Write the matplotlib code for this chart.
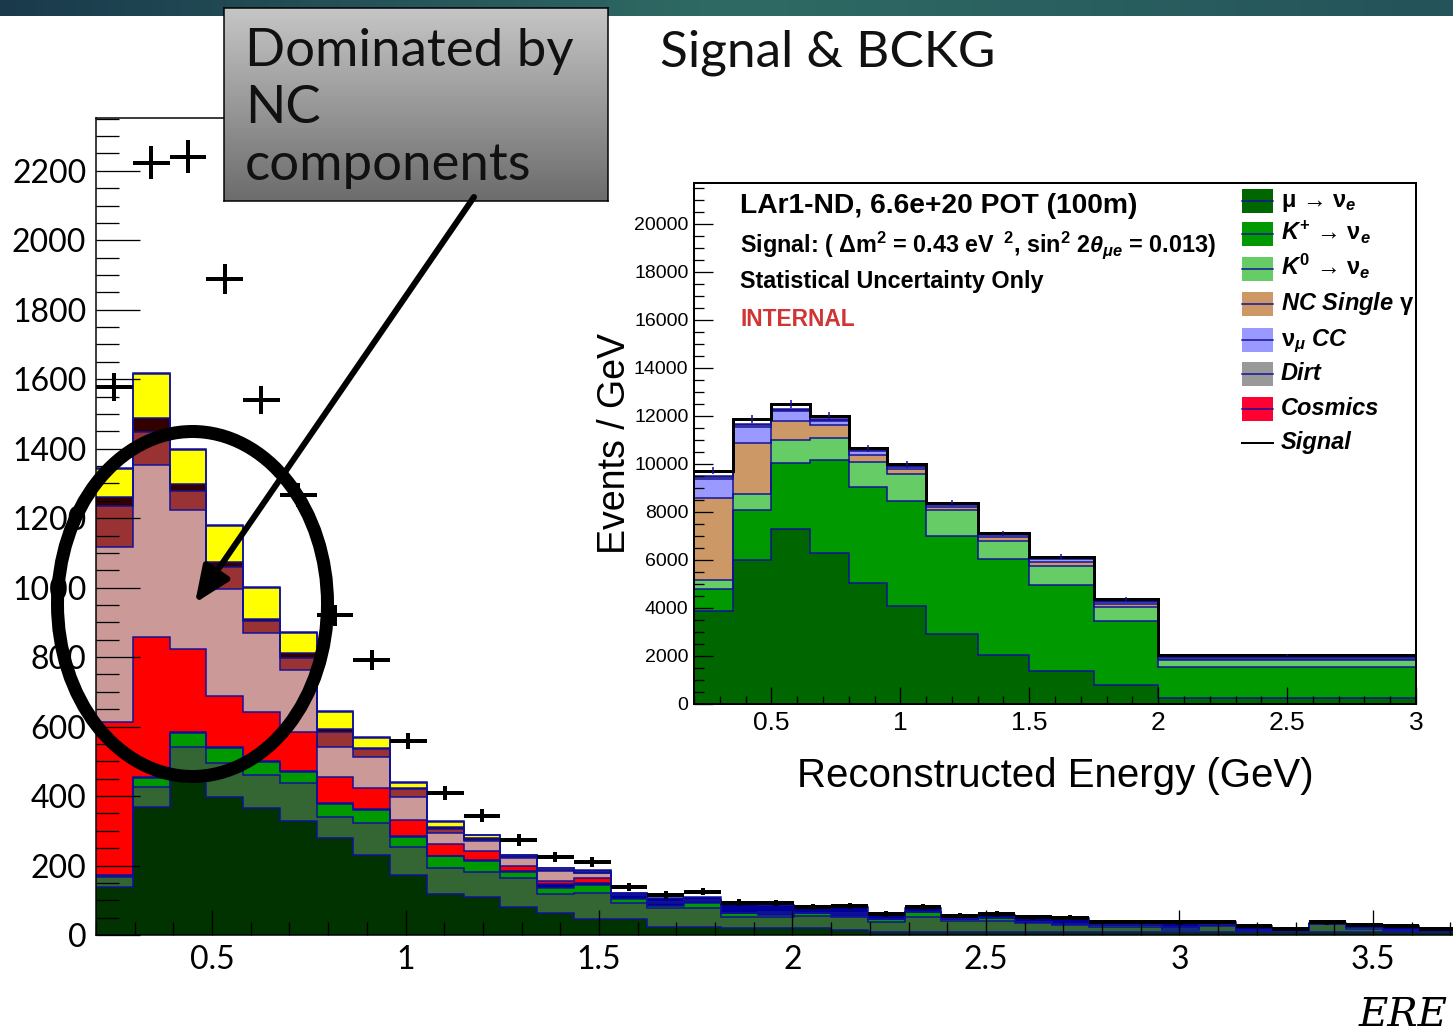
import numpy as np
import matplotlib
matplotlib.use("Agg")
import matplotlib.pyplot as plt
from matplotlib.ticker import MultipleLocator, FuncFormatter
from matplotlib.patches import Ellipse, Rectangle, FancyArrowPatch
from matplotlib.colors import LinearSegmentedColormap

W, H, DPI = 1453, 1033, 100
PT = 72.0 / DPI  # points per pixel

plt.rcParams['mathtext.fontset'] = 'custom'
plt.rcParams['mathtext.rm'] = 'Liberation Sans:bold'
plt.rcParams['mathtext.it'] = 'Liberation Sans:italic:bold'
plt.rcParams['mathtext.bf'] = 'Liberation Sans:bold'

# ---------------- background plot (slide) ----------------
# bin edges in GeV, 37 bins of 0.095 from 0.2
edges_big = np.round(0.2 + 0.095 * np.arange(38), 3)

# cumulative stack levels (events), bottom layer first
lvl_dg = [138, 369, 470, 397, 366, 328, 279, 230, 173, 118, 110, 81, 64, 46, 46, 23, 23, 20, 20,
          20, 14, 9, 9, 9, 9, 9, 8, 8, 8, 8, 8, 8, 8, 9, 8, 8, 8]
lvl_mg = [167, 426, 541, 495, 461, 438, 340, 322, 253, 194, 182, 163, 118, 121, 92, 78, 79, 52, 52,
          55, 52, 37, 52, 40, 40, 35, 29, 23, 23, 14, 26, 12, 12, 32, 17, 12, 9]
lvl_g = [170, 452, 582, 538, 498, 469, 377, 360, 282, 226, 213, 182, 136, 144, 104, 84, 91, 63, 58,
         63, 55, 46, 66, 46, 49, 37, 31, 29, 29, 20, 29, 14, 13, 33, 23, 14, 11]
lvl_b1 = [172, 454, 584, 540, 500, 471, 379, 362, 284, 228, 215, 184, 147, 150, 115, 91, 98, 63, 62,
          63, 60, 46, 66, 46, 49, 37, 31, 29, 29, 23, 29, 14, 13, 33, 23, 14, 11]
lvl_red = [613, 858, 823, 688, 642, 585, 455, 423, 331, 262, 242, 199, 156, 164, 115, 96, 98, 63, 62,
           63, 63, 46, 66, 46, 49, 37, 31, 29, 29, 23, 29, 14, 13, 33, 23, 14, 11]
lvl_pink = [1117, 1353, 1224, 996, 870, 763, 541, 513, 397, 295, 272, 221, 185, 178, 119, 96, 102, 63, 66,
            63, 64, 46, 66, 46, 49, 37, 31, 29, 29, 23, 29, 14, 13, 33, 23, 14, 11]
lvl_brown = [1235, 1448, 1278, 1060, 904, 798, 585, 536, 420, 305, 274, 224, 186, 179, 119, 96, 102, 63, 66,
             63, 64, 46, 66, 46, 49, 37, 31, 29, 29, 23, 29, 14, 13, 33, 23, 14, 11]
lvl_maroon = [1261, 1489, 1299, 1074, 910, 812, 593, 538, 424, 310, 278, 226, 187, 180, 119, 96, 102, 63, 66,
              63, 64, 46, 66, 46, 49, 37, 31, 29, 29, 23, 29, 14, 13, 33, 23, 14, 11]
lvl_yellow = [1342, 1615, 1397, 1178, 999, 870, 642, 567, 438, 325, 288, 230, 192, 184, 120, 96, 102, 63, 66,
              63, 64, 46, 66, 46, 49, 37, 31, 29, 29, 23, 29, 14, 13, 33, 23, 14, 11]
lvl_top = [1345, 1618, 1400, 1181, 1002, 873, 645, 570, 440, 327, 289, 231, 193, 187, 121, 107, 110, 90, 87,
           78, 81, 60, 78, 52, 58, 49, 49, 37, 37, 35, 37, 26, 17, 35, 29, 26, 17]
data_big = [1578, 2223, 2240, 1889, 1540, 1267, 921, 792, 559, 409, 343, 274, 225, 210, 138, 115, 125, 93, 92,
            80, 84, 61, 80, 56, 60, 51, 50, 38, 38, 36, 38, 27, 18, 36, 30, 27, 18]

# ---------------- inset (LAr1-ND) ----------------
edges_nd = [0.2, 0.35, 0.5, 0.65, 0.8, 0.95, 1.1, 1.3, 1.5, 1.75, 2.0, 3.0]
nd_mu = [3888, 6000, 7292, 6278, 5056, 4083, 2917, 2042, 1389, 792, 250]
nd_kp = [4792, 8083, 10028, 10167, 9056, 8458, 7000, 6028, 4972, 3458, 1556]
nd_k0 = [5167, 8750, 11000, 11097, 10097, 9583, 8083, 6806, 5750, 4028, 1833]
nd_nc = [8569, 10889, 11792, 11625, 10375, 9778, 8222, 6944, 5931, 4167, 1880]
nd_numu = [9375, 11556, 12222, 11806, 10556, 9889, 8292, 7042, 6042, 4264, 1950]
nd_dirt = [9440, 11610, 12260, 11840, 10590, 9920, 8320, 7070, 6070, 4290, 1975]
nd_cosmic = [9514, 11653, 12300, 11880, 10620, 9950, 8340, 7090, 6090, 4310, 2000]
nd_signal = [9722, 11875, 12486, 12014, 10653, 9986, 8361, 7111, 6139, 4361, 2042]
nd_err = [140, 170, 170, 150, 140, 140, 120, 110, 100, 90, 50]

leg_labels = [r"$\mathrm{\mu}$ → $\mathrm{\nu}_{e}$", r"$K^{+}$ → $\mathrm{\nu}_{e}$",
              r"$K^{0}$ → $\mathrm{\nu}_{e}$", r"NC Single $\mathrm{\gamma}$", r"$\mathrm{\nu}_{\mu}$ CC",
              "Dirt", "Cosmics", "Signal"]
leg_colors = ['#006600', '#009900', '#66cc66', '#cc9966', '#9999ff', '#999999', '#ff0033', None]

NAVY = '#10109a'


def rect(x0, y0, x1, y1):
    return [x0 / W, 1 - y1 / H, (x1 - x0) / W, (y1 - y0) / H]


fig = plt.figure(figsize=(W / DPI, H / DPI), dpi=DPI)
fig.patch.set_facecolor('white')

# ===== background histogram =====
ax = fig.add_axes(rect(96, 118, 1453, 935), zorder=0)
big_layers = [(lvl_dg, '#003300'), (lvl_mg, '#336633'), (lvl_g, '#009900'), (lvl_b1, '#000099'),
              (lvl_red, '#ff0000'), (lvl_pink, '#cc9999'), (lvl_brown, '#993333'),
              (lvl_maroon, '#330000'), (lvl_yellow, '#ffff00'), (lvl_top, '#000099')]
prev = 0
for lvl, col in big_layers:
    ax.stairs(lvl, edges_big, baseline=prev, fill=True, color=col, lw=0)
    prev = lvl
for lvl, col in big_layers:
    ax.stairs(lvl, edges_big, baseline=None, color=NAVY, lw=1.5 * PT)

centers = (edges_big[:-1] + edges_big[1:]) / 2
half = (edges_big[1:] - edges_big[:-1]) / 2
ax.errorbar(centers, data_big, xerr=half, yerr=np.sqrt(data_big), fmt='none',
            ecolor='black', elinewidth=4 * PT, capsize=0, zorder=5)

ax.set_xlim(0.2, 3.707)
ax.set_ylim(0, 2352)
ax.spines['right'].set_visible(False)
for s in ['left', 'bottom', 'top']:
    ax.spines[s].set_linewidth(1.5 * PT)
ax.xaxis.set_major_locator(MultipleLocator(0.5))
ax.xaxis.set_minor_locator(MultipleLocator(0.1))
ax.yaxis.set_major_locator(MultipleLocator(200))
ax.yaxis.set_minor_locator(MultipleLocator(50))
ax.xaxis.set_major_formatter(FuncFormatter(lambda v, p: f"{v:g}"))
ax.tick_params(which='both', direction='in', width=1.3 * PT, color='black',
               labelsize=23, labelfontfamily='Lato')
ax.tick_params(axis='y', which='major', length=44 * PT, pad=7)
ax.tick_params(axis='y', which='minor', length=23 * PT)
ax.tick_params(axis='x', which='major', length=25 * PT, pad=7)
ax.tick_params(axis='x', which='minor', length=13 * PT)

# white canvas of the pasted plot
fig.add_artist(Rectangle((608 / W, 1 - 805 / H), (W - 608) / W, (805 - 60) / H,
                         transform=fig.transFigure, color='white', zorder=1))

# ===== inset =====
ins = fig.add_axes(rect(694, 183, 1416, 704), zorder=2)
nd_layers = [nd_mu, nd_kp, nd_k0, nd_nc, nd_numu, nd_dirt, nd_cosmic]
prev = 0
for lvl, col in zip(nd_layers, leg_colors):
    ins.stairs(lvl, edges_nd, baseline=prev, fill=True, color=col, lw=0)
    prev = lvl
for lvl in nd_layers:
    ins.stairs(lvl, edges_nd, baseline=None, color=NAVY, lw=1.5 * PT)
ins.stairs(nd_signal, edges_nd, baseline=None, color='black', lw=3 * PT)
nd_c = [(a + b) / 2 for a, b in zip(edges_nd[:-1], edges_nd[1:])]
ins.errorbar(nd_c, nd_signal, yerr=nd_err, fmt='none', ecolor=NAVY, elinewidth=1.5 * PT, capsize=0)

ins.set_xlim(0.2, 3.0)
ins.set_ylim(0, 21708)
for s in ins.spines.values():
    s.set_linewidth(2 * PT)
ins.xaxis.set_major_locator(MultipleLocator(0.5))
ins.xaxis.set_minor_locator(MultipleLocator(0.1))
ins.yaxis.set_major_locator(MultipleLocator(2000))
ins.yaxis.set_minor_locator(MultipleLocator(500))
ins.xaxis.set_major_formatter(FuncFormatter(lambda v, p: f"{v:g}"))
ins.tick_params(which='both', direction='in', width=1.3 * PT, labelfontfamily='Liberation Sans')
ins.tick_params(axis='y', which='major', length=19 * PT, labelsize=14, pad=4)
ins.tick_params(axis='y', which='minor', length=10 * PT)
ins.tick_params(axis='x', which='major', length=17 * PT, labelsize=19, pad=5)
ins.tick_params(axis='x', which='minor', length=8 * PT)
ins.set_xlabel("Reconstructed Energy (GeV)", fontsize=29, family='Liberation Sans')
ins.xaxis.set_label_coords(0.5, (704 - 757) / 521)
ins.set_ylabel("Events / GeV", fontsize=27, family='Liberation Sans')
ins.yaxis.set_label_coords((633 - 694) / 722, 0.5)


def ia(px, py):
    return (px - 694) / 722, (704 - py) / 521


ins.text(*ia(740, 213), "LAr1-ND, 6.6e+20 POT (100m)", transform=ins.transAxes,
         fontsize=20.3, weight='bold', family='Liberation Sans', va='baseline')
ins.text(*ia(740, 252), r"Signal: ( $\Delta$m$^{2}$ = 0.43 eV $\,^{2}$, sin$^{2}$ 2$\theta_{\mu e}$ = 0.013)",
         transform=ins.transAxes, fontsize=16.8, weight='bold', family='Liberation Sans', va='baseline')
ins.text(*ia(740, 288), "Statistical Uncertainty Only", transform=ins.transAxes,
         fontsize=16.8, weight='bold', family='Liberation Sans', va='baseline')
ins.text(*ia(740, 325.5), "INTERNAL", transform=ins.transAxes, color='#d03535',
         fontsize=16.4, weight='bold', family='Liberation Sans', va='baseline')

# legend
leg_rows = [200.7, 234, 269.3, 304.3, 340, 374.3, 408.7, 443.3]
for yc, lab, col in zip(leg_rows, leg_labels, leg_colors):
    x0, y0 = ia(1242, yc + 12)
    x1, y1 = ia(1273, yc - 12)
    xm, ym = ia(1242, yc)
    if col is not None:
        ins.add_patch(Rectangle((x0, y0), x1 - x0, y1 - y0, transform=ins.transAxes,
                                color=col, lw=0, clip_on=False))
        ins.plot([x0, x1], [ym, ym], transform=ins.transAxes, color=NAVY, lw=1.5 * PT, clip_on=False)
    else:
        ins.plot([x0, x1], [ym, ym], transform=ins.transAxes, color='black', lw=2 * PT, clip_on=False)
    ins.text(*ia(1281, yc + 6), lab, transform=ins.transAxes, fontsize=17, weight='bold',
             style='italic', family=['Liberation Sans', 'DejaVu Sans'], va='baseline')

# ===== slide decorations =====
banner = fig.add_axes(rect(0, 0, 1453, 16), zorder=5)
cmap_b = LinearSegmentedColormap.from_list('b', ['#1a3a4c', '#2f6b64', '#24535a'])
banner.imshow(np.linspace(0, 1, 256)[None, :], cmap=cmap_b, aspect='auto')
banner.axis('off')

box = fig.add_axes(rect(224, 8, 608, 201), zorder=6)
cmap_g = LinearSegmentedColormap.from_list('g', ['#c6c6c6', '#6c6c6c'])
box.imshow(np.linspace(0, 1, 256)[:, None], cmap=cmap_g, aspect='auto')
box.set_xticks([])
box.set_yticks([])
for s in box.spines.values():
    s.set_linewidth(1.5 * PT)

ov = fig.add_axes([0, 0, 1, 1], zorder=10)
ov.set_xlim(0, W)
ov.set_ylim(H, 0)
ov.axis('off')
ov.patch.set_alpha(0)

ov.add_patch(Ellipse((192.5, 604), 270, 345, fill=False, lw=13 * PT, color='black'))
ov.add_patch(FancyArrowPatch((474, 197), (195, 603), arrowstyle='-|>,head_length=1.1,head_width=0.47',
                             mutation_scale=20, lw=6 * PT, color='black', shrinkA=0, shrinkB=0))

for txt, yb in [("Dominated by", 66), ("NC", 123), ("components", 180)]:
    ov.text(245, yb, txt, fontsize=38, family='Lato', va='baseline', color='#111111')
ov.text(660, 67, "Signal & BCKG", fontsize=37, family='Lato', va='baseline', color='#111111')
ov.text(1448, 1026, "ERE", fontsize=29, family='DejaVu Serif', style='italic',
        ha='right', va='baseline')

fig.savefig("out.png", dpi=DPI)
